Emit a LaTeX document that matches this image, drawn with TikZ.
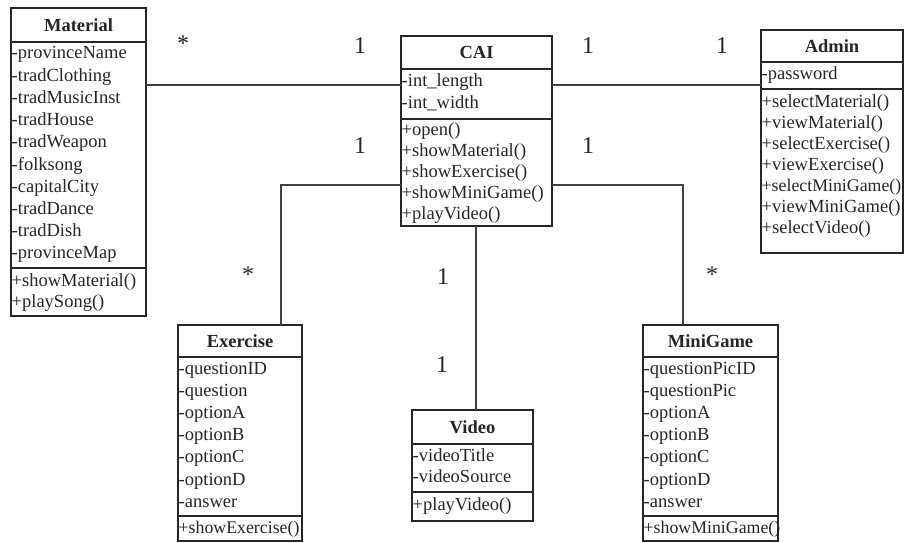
\documentclass[tikz,border=0pt]{standalone}
\usepackage{fontspec}
\setmainfont{Liberation Serif}
\begin{document}
\begin{tikzpicture}[x=1pt,y=-1pt,
  classbox/.style={draw=black!85,line width=1.3pt,inner sep=0pt,outer sep=0pt,anchor=north west},
  sep/.style={draw=black!85,line width=1.3pt},
  conn/.style={draw=black!75,line width=1.2pt},
  ttl/.style={font=\fontsize{18.5}{20}\selectfont\bfseries,text=black!85,inner sep=0pt},
  attr/.style={font=\fontsize{18.5}{21}\selectfont,text=black!85,anchor=west,inner xsep=0.5pt,inner ysep=0pt,text height=12pt,text depth=4pt},
  tight/.style={font=\fontsize{17.8}{21}\selectfont},
  mult/.style={font=\fontsize{24}{26}\selectfont,text=black!85,inner sep=0pt}]
\useasboundingbox (0,0) rectangle (905,543);
\fill[white] (0,0) rectangle (905,543);

% ---------- Material ----------
\node[classbox,minimum width=135pt,minimum height=308pt] (mat) at (11,8) {};
\draw[sep] (11,42) -- (146,42);
\draw[sep] (11,268) -- (146,268);
\node[ttl] (matT) at (78.5,25) {Material};
\foreach \t [count=\i] in {-provinceName,-tradClothing,-tradMusicInst,-tradHouse,-tradWeapon,-folksong,-capitalCity,-tradDance,-tradDish,-provinceMap}
  \node[attr] (matA\i) at (11,{55+22.2*(\i-1)}) {\t};
\node[attr] (matM1) at (11,282) {+showMaterial()};
\node[attr] (matM2) at (11,303) {+playSong()};

% ---------- CAI ----------
\node[classbox,minimum width=151pt,minimum height=190pt] (cai) at (401,36) {};
\draw[sep] (401,69) -- (552,69);
\draw[sep] (401,119) -- (552,119);
\node[ttl] (caiT) at (476.5,52) {CAI};
\node[attr] (caiA1) at (401,83) {-int\_length};
\node[attr] (caiA2) at (401,104) {-int\_width};
\foreach \t [count=\i] in {+open(),+showMaterial(),+showExercise(),+showMiniGame(),+playVideo()}
  \node[attr] (caiM\i) at (401,{131+21*(\i-1)}) {\t};

% ---------- Admin ----------
\node[classbox,minimum width=142pt,minimum height=223pt] (adm) at (761,30) {};
\draw[sep] (761,62) -- (903,62);
\draw[sep] (761,89) -- (903,89);
\node[ttl] (admT) at (832,46) {Admin};
\node[attr] (admA1) at (761,75) {-password};
\foreach \t [count=\i] in {+selectMaterial(),+viewMaterial(),+selectExercise(),+viewExercise()}
  \node[attr] (admM\i) at (761,{103+21*(\i-1)}) {\t};
\node[attr,tight] (admM5) at (761,187) {+selectMiniGame()};
\node[attr] (admM6) at (761,208) {+viewMiniGame()};
\node[attr] (admM7) at (761,229) {+selectVideo()};

% ---------- Exercise ----------
\node[classbox,minimum width=124pt,minimum height=216pt] (exe) at (178,325) {};
\draw[sep] (178,357) -- (302,357);
\draw[sep] (178,516) -- (302,516);
\node[ttl] (exeT) at (240,341) {Exercise};
\foreach \t [count=\i] in {-questionID,-question,-optionA,-optionB,-optionC,-optionD,-answer}
  \node[attr] (exeA\i) at (178,{370+22.2*(\i-1)}) {\t};
\node[attr,tight] (exeM1) at (178,529) {+showExercise()};

% ---------- MiniGame ----------
\node[classbox,minimum width=135pt,minimum height=216pt] (mg) at (643,325) {};
\draw[sep] (643,357) -- (778,357);
\draw[sep] (643,516) -- (778,516);
\node[ttl] (mgT) at (710.5,341) {MiniGame};
\foreach \t [count=\i] in {-questionPicID,-questionPic,-optionA,-optionB,-optionC,-optionD,-answer}
  \node[attr] (mgA\i) at (643,{370+22.2*(\i-1)}) {\t};
\node[attr,tight] (mgM1) at (643,529) {+showMiniGame()};

% ---------- Video ----------
\node[classbox,minimum width=121pt,minimum height=111pt] (vid) at (412,410) {};
\draw[sep] (412,444) -- (533,444);
\draw[sep] (412,492) -- (533,492);
\node[ttl] (vidT) at (472.5,427) {Video};
\node[attr] (vidA1) at (412,457) {-videoTitle};
\node[attr] (vidA2) at (412,478) {-videoSource};
\node[attr] (vidM1) at (412,506) {+playVideo()};

% ---------- connectors ----------
\coordinate (bendL) at (281,185);
\coordinate (bendR) at (683,185);
\draw[conn] (mat.east |- 0,85) -- (cai.west |- 0,85);
\draw[conn] (cai.east |- 0,85) -- (adm.west |- 0,85);
\draw[conn] (cai.west |- bendL) -- (bendL) -- (bendL |- exe.north);
\draw[conn] (cai.east |- bendR) -- (bendR) -- (bendR |- mg.north);
\draw[conn] (cai.south -| 476,0) -- (vid.north -| 476,0);

% ---------- multiplicities ----------
\node[mult] (m1) at (183,44) {*};
\node[mult] (m2) at (360,46) {1};
\node[mult] (m3) at (588,46) {1};
\node[mult] (m4) at (722,46) {1};
\node[mult] (m5) at (360,146) {1};
\node[mult] (m6) at (588,146) {1};
\node[mult] (m7) at (248,275) {*};
\node[mult] (m8) at (443,277) {1};
\node[mult] (m9) at (712,275) {*};
\node[mult] (m10) at (442,365) {1};
\end{tikzpicture}
\end{document}
